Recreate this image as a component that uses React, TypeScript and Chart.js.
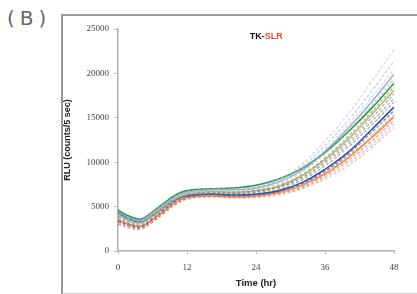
import React, { useEffect, useRef } from "react";
import { Chart, registerables } from "chart.js";

Chart.register(...registerables);

const hours = [0, 2, 4, 6, 8, 10, 12, 16, 20, 24, 28, 32, 36, 40, 44, 48];
const xTicks = [0, 12, 24, 36, 48];
const yTicks = [0, 5000, 10000, 15000, 20000, 25000];

// RLU values in thousands of counts / 5 sec
const s1 = [4.2, 3.6, 3.4, 4.3, 5.3, 6.2, 6.7, 7.0, 7.0, 7.3, 8.1, 9.8, 12.4, 15.4, 19.0, 22.7];
const s2 = [4.0, 3.5, 3.3, 4.2, 5.2, 6.1, 6.6, 6.9, 6.9, 7.2, 8.0, 9.5, 11.9, 14.7, 17.9, 21.4];
const s3 = [3.7, 3.2, 3.0, 3.9, 4.9, 5.9, 6.5, 6.8, 6.8, 7.1, 7.8, 9.3, 11.5, 14.2, 17.2, 20.5];
const s4 = [4.4, 3.7, 3.5, 4.3, 5.2, 6.1, 6.6, 6.9, 6.9, 7.1, 7.8, 9.1, 11.2, 13.8, 16.7, 19.9];
const s5 = [3.5, 3.0, 2.9, 3.8, 4.8, 5.8, 6.4, 6.7, 6.7, 7.0, 7.6, 8.9, 10.9, 13.5, 16.3, 19.4];
const s6 = [4.6, 3.9, 3.6, 4.4, 5.4, 6.3, 6.8, 7.0, 7.1, 7.4, 8.1, 9.3, 11.1, 13.4, 16.0, 18.9];
const s7 = [3.9, 3.3, 3.1, 4.0, 5.0, 5.9, 6.4, 6.6, 6.6, 6.8, 7.4, 8.6, 10.5, 12.9, 15.6, 18.5];
const s8 = [4.1, 3.4, 3.2, 4.0, 5.0, 5.9, 6.4, 6.7, 6.6, 6.8, 7.3, 8.5, 10.3, 12.6, 15.3, 18.1];
const s9 = [3.8, 3.2, 3.0, 3.9, 4.9, 5.8, 6.3, 6.6, 6.5, 6.7, 7.2, 8.3, 10.1, 12.3, 14.9, 17.7];
const s10 = [3.3, 2.9, 2.8, 3.7, 4.7, 5.7, 6.3, 6.5, 6.5, 6.7, 7.2, 8.2, 9.9, 12.0, 14.5, 17.2];
const s11 = [3.6, 3.1, 2.9, 3.8, 4.8, 5.7, 6.2, 6.4, 6.4, 6.6, 7.0, 8.0, 9.6, 11.7, 14.1, 16.8];
const s12 = [4.3, 3.6, 3.3, 4.0, 4.9, 5.8, 6.2, 6.4, 6.3, 6.4, 6.8, 7.7, 9.2, 11.1, 13.6, 16.2];
const s13 = [3.4, 2.9, 2.7, 3.6, 4.6, 5.6, 6.1, 6.4, 6.3, 6.4, 6.8, 7.6, 9.0, 10.9, 13.3, 15.8];
const s14 = [3.2, 2.8, 2.6, 3.4, 4.4, 5.4, 6.0, 6.3, 6.2, 6.3, 6.7, 7.5, 8.9, 10.7, 12.9, 15.4];
const s15 = [3.5, 3.0, 2.8, 3.5, 4.5, 5.5, 6.0, 6.2, 6.1, 6.2, 6.6, 7.4, 8.7, 10.5, 12.7, 15.1];
const s16 = [3.0, 2.6, 2.5, 3.3, 4.3, 5.3, 5.9, 6.2, 6.1, 6.2, 6.5, 7.2, 8.5, 10.2, 12.3, 14.7];
const s17 = [3.1, 2.7, 2.5, 3.2, 4.2, 5.2, 5.8, 6.1, 6.0, 6.1, 6.4, 7.1, 8.3, 9.9, 11.9, 14.3];
const s18 = [3.3, 2.8, 2.6, 3.3, 4.3, 5.3, 5.9, 6.1, 6.0, 6.0, 6.3, 7.0, 8.1, 9.6, 11.6, 13.9];

const seriesList = [s1, s2, s3, s4, s5, s6, s7, s8, s9, s10, s11, s12, s13, s14, s15, s16, s17, s18];
const seriesColors = [
  "rgba(180,185,200,0.6)", "rgba(150,180,215,0.65)", "rgba(225,175,195,0.6)", "rgba(120,160,215,0.8)",
  "rgba(170,170,170,0.6)", "rgba(40,150,70,1)", "rgba(150,165,80,0.8)", "rgba(175,160,90,0.8)",
  "rgba(70,150,150,0.65)", "rgba(140,110,170,0.65)", "rgba(150,110,70,0.65)", "rgba(40,80,190,1)",
  "rgba(50,60,110,0.65)", "rgba(235,150,80,0.7)", "rgba(225,120,60,0.85)", "rgba(210,70,60,0.55)",
  "rgba(235,150,130,0.65)", "rgba(200,170,130,0.65)",
];
const seriesSolid = [false, false, false, true, false, true, false, true, false, false, false, true, false, false, true, false, false, false];

const titlePlugin = {
  id: "tkTitle",
  afterDraw(chart: any) {
    const ctx = chart.ctx;
    ctx.save();
    ctx.font = "bold 9px 'Liberation Sans', Arial, sans-serif";
    ctx.textBaseline = "middle";
    const x = chart.scales.x.getPixelForValue(22.9);
    const y = 37 - 15;
    ctx.fillStyle = "#111";
    ctx.fillText("TK-", x, y);
    const w = ctx.measureText("TK-").width;
    ctx.fillStyle = "#e0502a";
    ctx.fillText("SLR", x + w, y);
    ctx.restore();
  },
};

export default function App() {
  const ref = useRef<HTMLCanvasElement>(null);
  useEffect(() => {
    if (!ref.current) return;
    const datasets = seriesList.map((s, i) => ({
      data: s.map((v, j) => ({ x: hours[j], y: v * 1000 })),
      borderColor: seriesColors[i],
      borderWidth: seriesSolid[i] ? 1.6 : 1.2,
      borderDash: seriesSolid[i] ? [] : [3, 2],
      pointRadius: 0,
      tension: 0.4,
      fill: false,
    }));
    const chart = new Chart(ref.current, {
      type: "line",
      data: { datasets },
      options: {
        animation: false,
        responsive: false,
        layout: { padding: { left: 0, right: 23, top: 14, bottom: 0 } },
        plugins: { legend: { display: false }, tooltip: { enabled: false } },
        scales: {
          x: {
            type: "linear",
            min: 0,
            max: 48,
            afterBuildTicks: (scale: any) => {
              scale.ticks = xTicks.map((v) => ({ value: v }));
            },
            afterFit: (scale: any) => {
              scale.height = 43;
            },
            grid: { drawOnChartArea: false, color: "#bbb", tickLength: 3 },
            border: { color: "#b0b0b0", width: 1.5 },
            ticks: {
              color: "#444",
              font: { size: 9, family: "'Liberation Serif', serif" },
              padding: 8,
              callback: (v: any) => String(v),
            },
            title: {
              display: true,
              text: "Time (hr)",
              color: "#222",
              font: { size: 9.5, weight: "bold", family: "'Liberation Sans', Arial" },
              padding: { top: 1, bottom: 5 },
            },
          },
          y: {
            min: 0,
            max: 25000,
            afterBuildTicks: (scale: any) => {
              scale.ticks = yTicks.map((v) => ({ value: v }));
            },
            afterFit: (scale: any) => {
              scale.width = 56;
            },
            grid: { drawOnChartArea: false, color: "#bbb", tickLength: 4 },
            border: { color: "#b0b0b0", width: 1.5 },
            ticks: {
              color: "#444",
              font: { size: 9, family: "'Liberation Serif', serif" },
              padding: 5,
              callback: (v: any) => String(v),
            },
            title: {
              display: true,
              text: "RLU (counts/5 sec)",
              color: "#222",
              font: { size: 9, weight: "bold", family: "'Liberation Sans', Arial" },
              padding: { top: 0, bottom: 0 },
            },
          },
        },
      },
      plugins: [titlePlugin],
    });
    return () => chart.destroy();
  }, []);

  return (
    <div style={{ position: "absolute", left: 0, top: 0, width: 417, height: 294, background: "#fff", overflow: "hidden" }}>
      <div
        style={{
          position: "absolute",
          left: 7,
          top: 6,
          fontSize: 20,
          fontFamily: "'DejaVu Sans', sans-serif",
          color: "#666",
          letterSpacing: 5,
        }}
      >
        (B)
      </div>
      <div
        style={{
          position: "absolute",
          left: 61,
          top: 14,
          width: 400,
          height: 277,
          borderTop: "2px solid #9a9a9a",
          borderLeft: "2px solid #9a9a9a",
          borderBottom: "1px solid #ccc",
        }}
      />
      <canvas ref={ref} width={355} height={279} style={{ position: "absolute", left: 62, top: 15 }} />
    </div>
  );
}
